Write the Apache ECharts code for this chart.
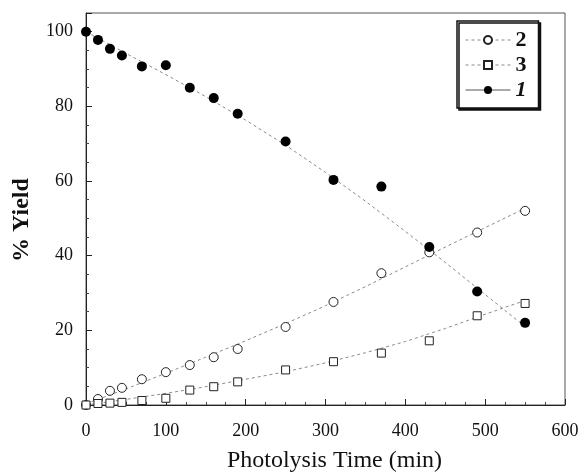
<!DOCTYPE html>
<html>
<head>
<meta charset="utf-8">
<script src="https://cdn.jsdelivr.net/npm/echarts@6/dist/echarts.min.js"></script>
<style>html,body{margin:0;padding:0;background:#fff}#c{width:580px;height:473px}</style>
</head>
<body>
<div id="c"></div>
<script>
var times = [0, 15, 30, 45, 70, 100, 130, 160, 190, 250, 310, 370, 430, 490, 550];
var yield1 = [100, 97.8, 95.4, 93.6, 90.7, 91, 85, 82.2, 78, 70.6, 60.3, 58.5, 42.3, 30.4, 22];
var yield2 = [0, 1.6, 3.8, 4.6, 6.9, 8.8, 10.7, 12.8, 15, 20.9, 27.6, 35.3, 40.9, 46.2, 52];
var yield3 = [0, 0.4, 0.5, 0.7, 1.2, 1.8, 4, 4.9, 6.2, 9.4, 11.6, 13.9, 17.2, 23.9, 27.2];

// Fitted trend curves
var fitX = [0, 50, 100, 150, 200, 250, 300, 350, 400, 450, 500, 550];
var fit1 = [100, 94.2, 88.5, 82.6, 76.3, 69.6, 62.3, 54.6, 46.5, 38.2, 29.6, 21];
var fit2 = [0.3, 4.3, 8.5, 12.8, 17.2, 21.8, 26.6, 31.7, 37, 42.3, 47.5, 52.7];
var fit3 = [0, 1.5, 3.1, 4.9, 6.9, 8.9, 11.3, 14, 17, 20.5, 24.3, 28];

var xTicks = [0, 100, 200, 300, 400, 500, 600];
var yTicks = [0, 20, 40, 60, 80, 100];

function pairs(xs, ys) { return xs.map(function (x, i) { return [x, ys[i]]; }); }

var SERIF = '"Liberation Serif", "DejaVu Serif", serif';
var fitLine = { color: '#8a8a8a', width: 1, type: [3, 3] };

var chart = echarts.init(document.getElementById('c'));
chart.setOption({
  animation: false,
  backgroundColor: '#fff',
  grid: { left: 86, right: 15, top: 13, bottom: 68, show: true, borderColor: '#555', borderWidth: 1,
    containLabel: false, outerBoundsMode: 'none' },
  xAxis: {
    type: 'value', min: 0, max: 600, interval: 100,
    name: 'Photolysis Time (min)', nameLocation: 'middle', nameGap: 44,
    nameTextStyle: { fontFamily: SERIF, fontSize: 24, color: '#111', padding: [0, 0, 0, 18] },
    axisLine: { lineStyle: { color: '#222', width: 1 } },
    axisTick: { inside: true, length: 6, lineStyle: { color: '#222' } },
    minorTick: { show: true, splitNumber: 4, length: 3, lineStyle: { color: '#444' } },
    splitLine: { show: false },
    axisLabel: { fontFamily: SERIF, fontSize: 18, color: '#111', margin: 17,
      formatter: function (v) { return xTicks.indexOf(v) >= 0 ? String(v) : ''; } }
  },
  yAxis: {
    type: 'value', min: 0, max: 105, interval: 20,
    name: '% Yield', nameLocation: 'middle', nameGap: 52, nameRotate: 90,
    nameTextStyle: { fontFamily: SERIF, fontSize: 24, fontWeight: 'bold', color: '#111', padding: [0, 22, 0, 0] },
    axisLine: { lineStyle: { color: '#222', width: 1 } },
    axisTick: { inside: true, length: 6, lineStyle: { color: '#222' } },
    minorTick: { show: true, splitNumber: 4, length: 3, lineStyle: { color: '#444' } },
    splitLine: { show: false },
    axisLabel: { fontFamily: SERIF, fontSize: 18, color: '#111', margin: 13,
      formatter: function (v) { return yTicks.indexOf(v) >= 0 ? String(v) : ''; } }
  },
  legend: {
    orient: 'vertical', left: 457, top: 21,
    padding: [8, 12, 7, 8], itemGap: 3, itemWidth: 45, itemHeight: 10,
    backgroundColor: '#fff', borderColor: '#111', borderWidth: 1.5, borderRadius: 0,
    shadowColor: '#111', shadowBlur: 0, shadowOffsetX: 2, shadowOffsetY: 2,
    data: [
      { name: '2', lineStyle: { color: '#8a8a8a', width: 1, type: [3, 3], opacity: 1 } },
      { name: '3', lineStyle: { color: '#8a8a8a', width: 1, type: [3, 3], opacity: 1 } },
      { name: '1', lineStyle: { color: '#555', width: 1, type: 'solid', opacity: 1 } }
    ],
    formatter: function (n) { return n === '1' ? '{i|1}' : '{b|' + n + '}'; },
    textStyle: {
      rich: {
        b: { fontFamily: SERIF, fontSize: 22, fontWeight: 'bold', color: '#111', lineHeight: 20 },
        i: { fontFamily: SERIF, fontSize: 22, fontWeight: 'bold', fontStyle: 'italic', color: '#111', lineHeight: 20 }
      }
    }
  },
  series: [
    { type: 'line', data: pairs(fitX, fit1), showSymbol: false, silent: true, lineStyle: fitLine, z: 1 },
    { type: 'line', data: pairs(fitX, fit2), showSymbol: false, silent: true, lineStyle: fitLine, z: 1 },
    { type: 'line', data: pairs(fitX, fit3), showSymbol: false, silent: true, lineStyle: fitLine, z: 1 },
    { name: '2', type: 'line', data: pairs(times, yield2), symbol: 'circle', symbolSize: 9, clip: false,
      itemStyle: { color: '#fff', borderColor: '#222', borderWidth: 1 },
      lineStyle: { width: 0, opacity: 0 }, z: 3 },
    { name: '3', type: 'line', data: pairs(times, yield3), symbol: 'rect', symbolSize: 8, clip: false,
      itemStyle: { color: '#fff', borderColor: '#222', borderWidth: 1 },
      lineStyle: { width: 0, opacity: 0 }, z: 3 },
    { name: '1', type: 'line', data: pairs(times, yield1), symbol: 'circle', symbolSize: 10, clip: false,
      itemStyle: { color: '#000', borderColor: '#000', borderWidth: 0 },
      lineStyle: { width: 0, opacity: 0 }, z: 4 }
  ]
});
</script>
</body>
</html>
